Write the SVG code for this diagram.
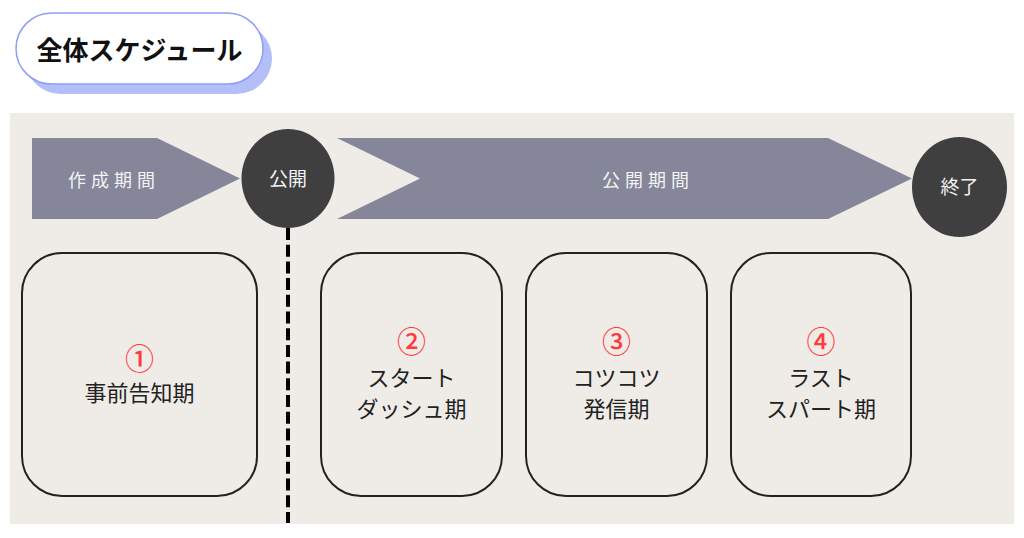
<svg xmlns="http://www.w3.org/2000/svg" width="1024" height="538" viewBox="0 0 1024 538">
<style>
.jp{font-family:"Noto Sans CJK JP","Noto Sans",sans-serif;}
.title{font-size:26px;font-weight:bold;fill:#111;}
.band{fill:#85869a;}
.band-t{font-size:18px;fill:#f4f4f4;letter-spacing:5px;}
.dot{fill:#3f3f3f;}
.dot-t{font-size:19px;fill:#f4f4f4;}
.box{fill:#efece8;stroke:#222;stroke-width:2;}
.num{font-size:29px;fill:#ff3b3b;font-weight:500;}
.lbl{font-size:22px;fill:#222;}
</style>
<rect width="1024" height="538" fill="#ffffff"/>
<g id="title">
<rect x="25" y="23" width="247" height="71" rx="35.5" fill="#b4bef8"/>
<rect x="16" y="13" width="247" height="71" rx="35.5" fill="#ffffff" stroke="#8c9ef5" stroke-width="1.5"/>
<text class="jp title" x="139.5" y="60" text-anchor="middle">全体スケジュール</text>
</g>
<rect id="panel" x="10" y="113" width="1004" height="411" fill="#efece8"/>
<g id="connectors">
<line x1="288" y1="228" x2="288" y2="523" stroke="#000" stroke-width="4" stroke-dasharray="12 4.7"/>
</g>
<g id="band-create">
<polygon class="band" points="32,138 157,138 240,178.5 157,219 32,219"/>
<text class="jp band-t" x="114" y="187" text-anchor="middle">作成期間</text>
</g>
<g id="band-public">
<polygon class="band" points="337,138 828,138 912,178.5 828,219 337,219 420,178.5"/>
<text class="jp band-t" x="648" y="187" text-anchor="middle">公開期間</text>
</g>
<g id="node-open">
<ellipse class="dot" cx="288" cy="178.5" rx="46.5" ry="49.5"/>
<text class="jp dot-t" x="288" y="186" text-anchor="middle">公開</text>
</g>
<g id="node-end">
<ellipse class="dot" cx="959.5" cy="187" rx="47.5" ry="50"/>
<text class="jp dot-t" x="959.5" y="194" text-anchor="middle">終了</text>
</g>
<g id="phase1">
<rect class="box" x="22" y="253" width="235" height="243" rx="40"/>
<text class="jp num" x="139.5" y="370" text-anchor="middle">①</text>
<text class="jp lbl" x="139.5" y="401" text-anchor="middle">事前告知期</text>
</g>
<g id="phase2">
<rect class="box" x="321" y="253" width="181" height="243" rx="40"/>
<text class="jp num" x="411.5" y="353" text-anchor="middle">②</text>
<text class="jp lbl" x="411.5" y="386" text-anchor="middle">スタート</text>
<text class="jp lbl" x="411.5" y="417" text-anchor="middle">ダッシュ期</text>
</g>
<g id="phase3">
<rect class="box" x="526" y="253" width="181" height="243" rx="40"/>
<text class="jp num" x="616.5" y="353" text-anchor="middle">③</text>
<text class="jp lbl" x="616.5" y="386" text-anchor="middle">コツコツ</text>
<text class="jp lbl" x="616.5" y="417" text-anchor="middle">発信期</text>
</g>
<g id="phase4">
<rect class="box" x="731" y="253" width="180" height="243" rx="40"/>
<text class="jp num" x="821" y="353" text-anchor="middle">④</text>
<text class="jp lbl" x="821" y="386" text-anchor="middle">ラスト</text>
<text class="jp lbl" x="821" y="417" text-anchor="middle">スパート期</text>
</g>
</svg>
